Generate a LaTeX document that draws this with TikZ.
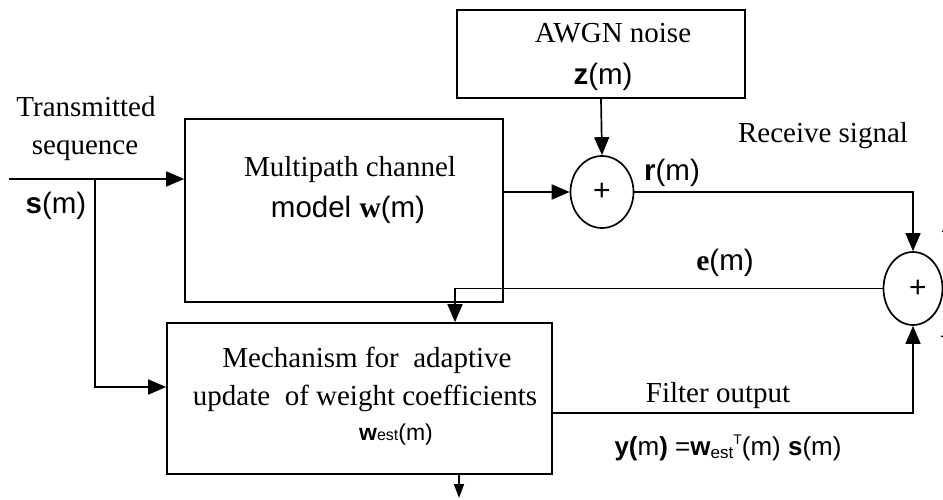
\documentclass[tikz,border=0pt]{standalone}
\usepackage{fontspec}
\setmainfont{Liberation Serif}
\setsansfont{Liberation Sans}
\usetikzlibrary{arrows.meta,shapes.geometric,calc}
\begin{document}
\begin{tikzpicture}[x=1pt,y=-1pt,
  box/.style={draw,line width=1.7pt,inner sep=0pt},
  sumnode/.style={draw,ellipse,line width=1.7pt,inner sep=0pt,font=\sffamily\fontsize{30}{30}\selectfont},
  conn/.style={line width=1.7pt,-{Triangle[length=18pt,width=15pt]}},
  connsmall/.style={line width=1.7pt,-{Triangle[length=14pt,width=10pt]}},
  lbl/.style={anchor=base,inner sep=0pt,font=\rmfamily\fontsize{29}{33}\selectfont},
  slbl/.style={anchor=base,inner sep=0pt,font=\sffamily\fontsize{29.5}{33}\selectfont}]
\useasboundingbox (0,0) rectangle (943,500);

% blocks
\node[box,minimum width=288pt,minimum height=88pt] (awgn) at (601,54) {};
\node[box,minimum width=318pt,minimum height=183pt] (chan) at (344,210.5) {};
\node[box,minimum width=385pt,minimum height=151pt] (mech) at (359.5,398.5) {};
\node[sumnode,minimum width=63pt,minimum height=72pt] (sum1) at (602,192) {+};
\node[sumnode,minimum width=59pt,minimum height=73pt] (sum2) at (913,288.5) {\hspace*{10pt}+};

% coordinates
\coordinate (in) at (9,179);
\coordinate (br) at (95,179);
\coordinate (out) at (459,498);

% connectors
\draw[conn] (in) -- (chan.west |- in);
\draw[conn] (br) |- ([yshift=11.5pt]mech.west);
\draw[conn] (chan.east |- sum1) -- (sum1.west);
\draw[conn] (awgn.south) -- (sum1.north);
\draw[conn] (sum1.east) -| (sum2.north);
\draw[conn] (sum2.west) -| ([xshift=95.5pt]mech.north);
\draw[conn] ([yshift=-14.5pt]mech.east) -| (sum2.south);
\draw[connsmall] (mech.south -| out) -- (out);

% labels
\node[lbl] (t1) at (86,117) {Transmitted};
\node[lbl] (t2) at (85,155) {sequence};
\node[slbl] (sm) at (56,213) {\textbf{s}(m)};
\node[lbl] (c1) at (350,177) {Multipath channel};
\node[slbl] (c2) at (348,217) {model \textbf{\rmfamily w}(m)};
\node[lbl] (a1) at (613,43) {AWGN noise};
\node[slbl] (a2) at (603,85) {\textbf{z}(m)};
\node[slbl] (rm) at (672,181) {\textbf{r}(m)};
\node[lbl] (rs) at (823,143) {Receive signal};
\node[slbl] (em) at (725,270) {\textbf{\rmfamily e}(m)};
\node[lbl] (m1) at (367,367) {Mechanism for\ \ adaptive};
\node[lbl] (m2) at (365,405) {update\ \ of weight coefficients};
\node[anchor=base,inner sep=0pt,font=\sffamily\fontsize{23}{25}\selectfont] (m3) at (396,440) {\textbf{w}{\fontsize{16}{16}\selectfont est}(m)};
\node[lbl] (fo) at (718,402) {Filter output};
\node[anchor=base,inner sep=0pt,font=\sffamily\fontsize{26}{30}\selectfont] (ym) at (728,455)
  {\textbf{y(}m\textbf{)} =\textbf{w}\raisebox{-3pt}{\fontsize{17}{17}\selectfont est}\raisebox{11pt}{\fontsize{14}{14}\selectfont T}(m) \textbf{s}(m)};
\node[anchor=center,inner sep=0pt,font=\sffamily\fontsize{20}{20}\selectfont] (pm) at (947,233) {+};
\node[anchor=center,inner sep=0pt,font=\sffamily\fontsize{20}{20}\selectfont] (mm) at (946,340) {\textminus};
\end{tikzpicture}
\end{document}
